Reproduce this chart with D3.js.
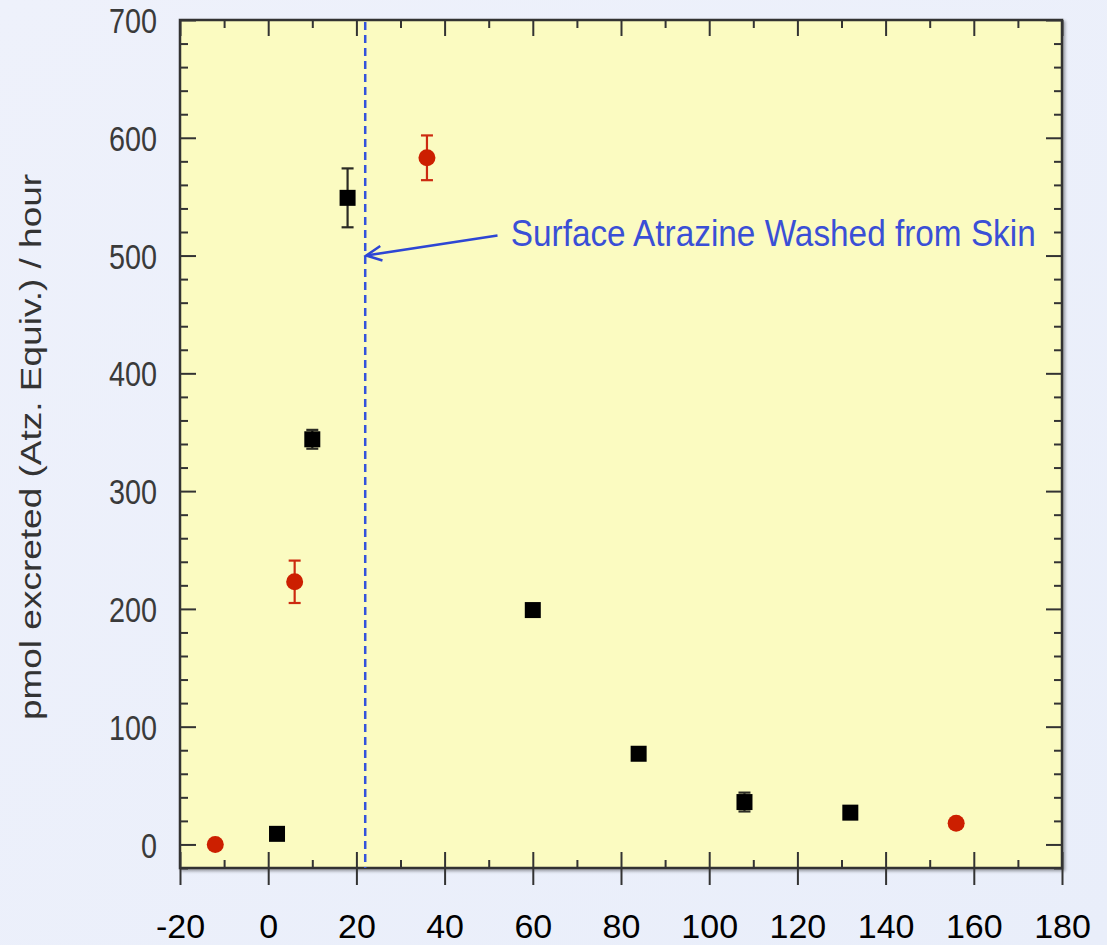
<!DOCTYPE html>
<html>
<head>
<meta charset="utf-8">
<script src="https://cdn.jsdelivr.net/npm/d3@7"></script>
<style>
  body { margin: 0; padding: 0; overflow: hidden; }
  svg { display: block; font-family: "Liberation Sans", Arial, Helvetica, sans-serif; }
</style>
</head>
<body>
<div id="chart"></div>
<script>
// data
var squareX = [2, 10, 18, 60, 84, 108, 132];
var squareY = [9, 344, 549, 199, 77, 36, 27];
var squareErr = [0, 8, 25, 0, 0, 8, 0];

var circleX = [-12, 6, 36, 156];
var circleY = [0, 223, 583, 18];
var circleErr = [0, 18, 19, 0];

var xMajor = [-20, 0, 20, 40, 60, 80, 100, 120, 140, 160, 180];
var xMinor = [-10, 10, 30, 50, 70, 90, 110, 130, 150, 170];
var yMajor = [0, 100, 200, 300, 400, 500, 600, 700];
var yMinor = [-20, 20, 40, 60, 80, 120, 140, 160, 180, 220, 240, 260, 280, 320, 340, 360, 380,
              420, 440, 460, 480, 520, 540, 560, 580, 620, 640, 660, 680];

var washTime = 22;
var noteText = "Surface Atrazine Washed from Skin";
var noteAt = { x: 55, y: 508 };
var arrowFrom = { x: 52, y: 517 };
var arrowTo = { x: 22, y: 500 };
var yTitle = "pmol excreted (Atz. Equiv.) / hour";

var width = 1107;
var height = 945;
var margin = { top: 20, right: 45, bottom: 77, left: 180 };

var x = d3.scaleLinear()
    .domain([-20, 180])
    .range([margin.left, width - margin.right]);

var y = d3.scaleLinear()
    .domain([-20, 700])
    .range([height - margin.bottom, margin.top]);

var svg = d3.select("#chart").append("svg")
    .attr("width", width)
    .attr("height", height);

var defs = svg.append("defs");
var bg = defs.append("linearGradient").attr("id", "bg")
    .attr("x1", 0).attr("y1", 0).attr("x2", 1).attr("y2", 1);
bg.append("stop").attr("offset", "0%").attr("stop-color", "#eef1fb");
bg.append("stop").attr("offset", "100%").attr("stop-color", "#e9eefa");

var shadow = defs.append("filter").attr("id", "shadow")
    .attr("x", "-5%").attr("y", "-5%").attr("width", "110%").attr("height", "110%");
shadow.append("feDropShadow")
    .attr("dx", 2).attr("dy", 2).attr("stdDeviation", 1.5)
    .attr("flood-color", "#000").attr("flood-opacity", 0.35);

svg.append("rect")
    .attr("width", width)
    .attr("height", height)
    .attr("fill", "url(#bg)");

// plot area
svg.append("rect")
    .attr("x", x(-20))
    .attr("y", y(700))
    .attr("width", x(180) - x(-20))
    .attr("height", y(-20) - y(700))
    .attr("fill", "#fbfbc1")
    .attr("stroke", "#333")
    .attr("stroke-width", 2.5)
    .attr("filter", "url(#shadow)");

function styleAxis(g) {
    g.select(".domain").remove();
    g.selectAll(".tick line").attr("stroke", "#333").attr("stroke-width", 2);
}

var plotBottom = height - margin.bottom;
var plotLeft = margin.left;
var plotRight = width - margin.right;
var plotTop = margin.top;

// bottom axis: major ticks cross the frame, minors point inward
svg.append("g")
    .attr("transform", `translate(0,${plotBottom})`)
    .call(d3.axisBottom(x).tickValues(xMajor).tickSize(17).tickPadding(29).tickFormat(d3.format("d")))
    .call(styleAxis)
    .call(g => g.selectAll("text")
        .attr("fill", "#000")
        .attr("font-size", 34)
        .text(d => d < 0 ? "-" + Math.abs(d) : d));
svg.append("g")
    .attr("transform", `translate(0,${plotBottom})`)
    .call(d3.axisTop(x).tickValues(xMajor).tickSize(16).tickFormat(""))
    .call(styleAxis);
svg.append("g")
    .attr("transform", `translate(0,${plotBottom})`)
    .call(d3.axisTop(x).tickValues(xMinor).tickSize(8).tickFormat(""))
    .call(styleAxis);

// top axis
svg.append("g")
    .attr("transform", `translate(0,${plotTop})`)
    .call(d3.axisBottom(x).tickValues(xMajor).tickSize(16).tickFormat(""))
    .call(styleAxis);
svg.append("g")
    .attr("transform", `translate(0,${plotTop})`)
    .call(d3.axisBottom(x).tickValues(xMinor).tickSize(8).tickFormat(""))
    .call(styleAxis);

// left axis
svg.append("g")
    .attr("transform", `translate(${plotLeft},0)`)
    .call(d3.axisRight(y).tickValues(yMajor).tickSize(16).tickFormat(""))
    .call(styleAxis);
svg.append("g")
    .attr("transform", `translate(${plotLeft},0)`)
    .call(d3.axisRight(y).tickValues(yMinor).tickSize(8).tickFormat(""))
    .call(styleAxis);
svg.append("g")
    .attr("transform", `translate(${plotLeft},0)`)
    .call(d3.axisLeft(y).tickValues(yMajor).tickSize(0).tickPadding(23))
    .call(g => g.select(".domain").remove())
    .call(g => g.selectAll("text")
        .attr("fill", "#3a3a3a")
        .attr("font-size", 35)
        .attr("dy", "0.36em")
        .attr("textLength", d => String(d).length * 16)
        .attr("lengthAdjust", "spacingAndGlyphs"));

// right axis
svg.append("g")
    .attr("transform", `translate(${plotRight},0)`)
    .call(d3.axisLeft(y).tickValues(yMajor).tickSize(16).tickFormat(""))
    .call(styleAxis);
svg.append("g")
    .attr("transform", `translate(${plotRight},0)`)
    .call(d3.axisLeft(y).tickValues(yMinor).tickSize(8).tickFormat(""))
    .call(styleAxis);

// y title, squeezed sideways like the source
svg.append("text")
    .attr("transform", `translate(41,${(y(700) + y(-20)) / 2 + 3}) scale(0.8,1) rotate(-90)`)
    .attr("text-anchor", "middle")
    .attr("font-size", 37)
    .attr("fill", "#333")
    .text(yTitle);

// wash line
svg.append("line")
    .attr("x1", x(washTime)).attr("x2", x(washTime))
    .attr("y1", y(700) + 2).attr("y2", y(-20))
    .attr("stroke", "#3352dc")
    .attr("stroke-width", 2.5)
    .attr("stroke-dasharray", "8,5");

// annotation arrow
var ax1 = x(arrowFrom.x), ay1 = y(arrowFrom.y), ax2 = x(arrowTo.x) + 1, ay2 = y(arrowTo.y);
var ang = Math.atan2(ay1 - ay2, ax1 - ax2);
var head = 17;
svg.append("line")
    .attr("x1", ax1).attr("y1", ay1)
    .attr("x2", ax2).attr("y2", ay2)
    .attr("stroke", "#2e46d4")
    .attr("stroke-width", 2.5);
svg.append("path")
    .attr("d", d3.line()([
        [ax2 + head * Math.cos(ang - 0.45), ay2 + head * Math.sin(ang - 0.45)],
        [ax2, ay2],
        [ax2 + head * Math.cos(ang + 0.45), ay2 + head * Math.sin(ang + 0.45)]
    ]))
    .attr("fill", "none")
    .attr("stroke", "#2e46d4")
    .attr("stroke-width", 2.5);

svg.append("text")
    .attr("x", x(noteAt.x))
    .attr("y", y(noteAt.y))
    .attr("font-size", 36)
    .attr("fill", "#3a4fd6")
    .attr("textLength", 525)
    .attr("lengthAdjust", "spacingAndGlyphs")
    .text(noteText);

// error bars
function errorBars(xs, ys, es, color) {
    var g = svg.append("g").attr("stroke", color).attr("stroke-width", 2.2).attr("fill", "none");
    xs.forEach(function (xv, i) {
        if (!es[i]) return;
        var cx = x(xv), hi = y(ys[i] + es[i]), lo = y(ys[i] - es[i]);
        g.append("line").attr("x1", cx).attr("x2", cx).attr("y1", hi).attr("y2", lo);
        g.append("line").attr("x1", cx - 6).attr("x2", cx + 6).attr("y1", hi).attr("y2", hi);
        g.append("line").attr("x1", cx - 6).attr("x2", cx + 6).attr("y1", lo).attr("y2", lo);
    });
}

errorBars(squareX, squareY, squareErr, "#2b2b24");
errorBars(circleX, circleY, circleErr, "#cc2a10");

svg.append("g")
    .selectAll("rect")
    .data(squareX)
    .join("rect")
    .attr("x", (d, i) => x(d) - 8)
    .attr("y", (d, i) => y(squareY[i]) - 8)
    .attr("width", 16)
    .attr("height", 16)
    .attr("fill", "#000");

svg.append("g")
    .selectAll("circle")
    .data(circleX)
    .join("circle")
    .attr("cx", d => x(d))
    .attr("cy", (d, i) => y(circleY[i]))
    .attr("r", 8.5)
    .attr("fill", "#cc1f00");
</script>
</body>
</html>
